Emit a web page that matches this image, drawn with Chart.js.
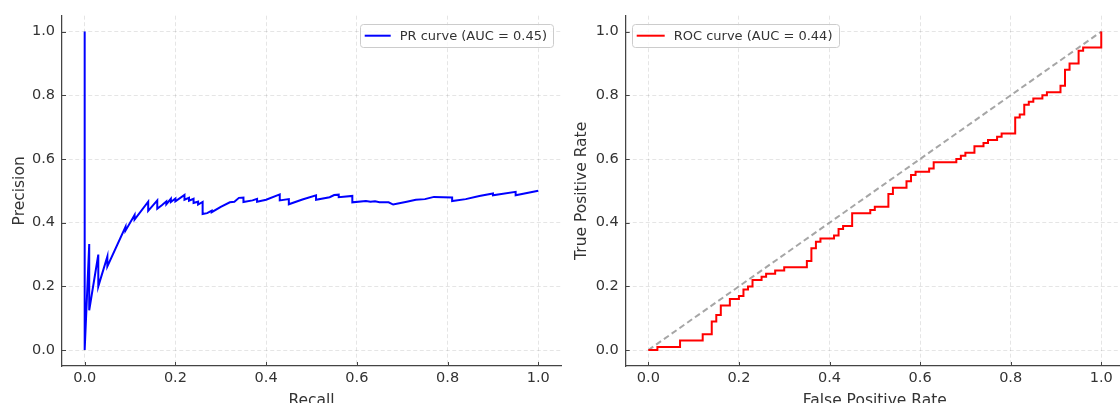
<!DOCTYPE html>
<html>
<head>
<meta charset="utf-8">
<script src="https://cdn.jsdelivr.net/npm/chart.js@4.4.1/dist/chart.umd.min.js"></script>
<style>
    html, body { margin: 0; padding: 0; background: #fff; overflow: hidden; }
    body { width: 1120px; height: 403px; position: relative; }
    .panel { position: absolute; top: 0; }
    #panel-pr { left: 0; }
    #panel-roc { left: 565px; }
</style>
</head>
<body>
<div class="panel" id="panel-pr"><canvas id="grafica-pr" width="565" height="420"></canvas></div>
<div class="panel" id="panel-roc"><canvas id="grafica-roc" width="570" height="420"></canvas></div>
<script>
// Datos

const marcas = [0, 0.2, 0.4, 0.6, 0.8, 1.0];

const recallPR = [0, 0, 0.01, 0.01, 0.03, 0.03, 0.05, 0.05, 0.09, 0.09, 0.11, 0.11, 0.14, 0.14, 0.16, 0.16,
    0.17, 0.18, 0.18, 0.19, 0.19, 0.20, 0.20, 0.22, 0.22, 0.23, 0.23, 0.24, 0.24, 0.25, 0.25, 0.26, 0.26,
    0.27, 0.28, 0.28, 0.30, 0.32, 0.33, 0.34, 0.35, 0.35, 0.37, 0.38, 0.38, 0.40, 0.43, 0.43, 0.45, 0.45,
    0.48, 0.51, 0.51, 0.54, 0.55, 0.56, 0.56, 0.59, 0.59, 0.62, 0.63, 0.64, 0.65, 0.67, 0.68, 0.71, 0.73,
    0.75, 0.77, 0.79, 0.81, 0.81, 0.84, 0.87, 0.90, 0.90, 0.95, 0.95, 1.00];
const precisionPR = [1.0, 0.0, 0.333, 0.125, 0.30, 0.20, 0.294, 0.263, 0.387, 0.375, 0.424, 0.41, 0.466, 0.437, 0.47, 0.444,
    0.455, 0.467, 0.458, 0.475, 0.465, 0.476, 0.467, 0.487, 0.472, 0.478, 0.469, 0.475, 0.462, 0.466, 0.457, 0.465, 0.427,
    0.43, 0.438, 0.433, 0.45, 0.464, 0.466, 0.478, 0.479, 0.465, 0.470, 0.475, 0.466, 0.472, 0.489, 0.470, 0.474, 0.458,
    0.473, 0.486, 0.472, 0.48, 0.487, 0.488, 0.480, 0.484, 0.464, 0.468, 0.466, 0.467, 0.464, 0.464, 0.457, 0.466, 0.472,
    0.474, 0.481, 0.480, 0.479, 0.468, 0.474, 0.484, 0.492, 0.486, 0.497, 0.486, 0.50];

const fprROC = [0, 0.02, 0.07, 0.12, 0.14, 0.15, 0.16, 0.18, 0.20, 0.21, 0.22, 0.23, 0.25, 0.26, 0.28, 0.30, 0.35, 0.36,
    0.37, 0.38, 0.41, 0.42, 0.43, 0.45, 0.49, 0.50, 0.53, 0.54, 0.57, 0.58, 0.59, 0.62, 0.63, 0.68, 0.69, 0.70, 0.72,
    0.74, 0.75, 0.77, 0.78, 0.81, 0.82, 0.83, 0.84, 0.85, 0.87, 0.88, 0.91, 0.92, 0.93, 0.95, 0.96, 1.00];
const tprROC = [0, 0.01, 0.03, 0.05, 0.09, 0.11, 0.14, 0.16, 0.17, 0.19, 0.20, 0.22, 0.23, 0.24, 0.25, 0.26, 0.28, 0.32,
    0.34, 0.35, 0.36, 0.38, 0.39, 0.43, 0.44, 0.45, 0.49, 0.51, 0.53, 0.55, 0.56, 0.57, 0.59, 0.60, 0.61, 0.62, 0.64,
    0.65, 0.66, 0.67, 0.68, 0.73, 0.74, 0.77, 0.78, 0.79, 0.80, 0.81, 0.83, 0.88, 0.90, 0.94, 0.95, 1.00];

const diagX = [0, 1];
const diagY = [0, 1];

const aPuntos = (xs, ys) => xs.map((x, i) => ({ x: x, y: ys[i] }));

Chart.defaults.font.family = '"DejaVu Sans", sans-serif';
Chart.defaults.color = '#333';

const colorRejilla = 'rgba(0, 0, 0, 0.10)';
const colorEje = '#444';

// marcas de escala hacia dentro, como en matplotlib
const marcasInteriores = {
    id: 'marcasInteriores',
    beforeDatasetsDraw(chart) {
        const { ctx, chartArea, scales } = chart;
        ctx.save();
        ctx.strokeStyle = colorEje;
        ctx.lineWidth = 1;
        ctx.beginPath();
        marcas.forEach(v => {
            const px = Math.round(scales.x.getPixelForValue(v)) + 0.5;
            ctx.moveTo(px, chartArea.bottom);
            ctx.lineTo(px, chartArea.bottom - 4);
            const py = Math.round(scales.y.getPixelForValue(v)) + 0.5;
            ctx.moveTo(chartArea.left, py);
            ctx.lineTo(chartArea.left + 4, py);
        });
        ctx.stroke();
        ctx.restore();
    }
};

// leyenda con recuadro dentro del area del grafico
const leyendaInterior = {
    id: 'leyendaInterior',
    afterDraw(chart, args, opts) {
        const { ctx, chartArea } = chart;
        const ds = chart.data.datasets[0];
        ctx.save();
        ctx.font = '13px "DejaVu Sans"';
        const anchoTexto = ctx.measureText(ds.label).width;
        const w = 5 + opts.largo + 9 + anchoTexto + 6;
        const h = 23;
        const x = opts.lado === 'right' ? chartArea.right - 8 - w : chartArea.left + 6;
        const y = chartArea.top + 8;
        ctx.beginPath();
        ctx.roundRect(Math.round(x) + 0.5, Math.round(y) + 0.5, Math.round(w), h, 3);
        ctx.fillStyle = 'rgba(255, 255, 255, 0.8)';
        ctx.fill();
        ctx.strokeStyle = '#cccccc';
        ctx.lineWidth = 1;
        ctx.stroke();
        ctx.beginPath();
        ctx.moveTo(x + 5, y + h / 2 + 0.5);
        ctx.lineTo(x + 5 + opts.largo, y + h / 2 + 0.5);
        ctx.strokeStyle = ds.borderColor;
        ctx.lineWidth = 2;
        ctx.stroke();
        ctx.fillStyle = '#333';
        ctx.textBaseline = 'middle';
        ctx.fillText(ds.label, x + 5 + opts.largo + 9, y + h / 2 + 1);
        ctx.restore();
    }
};

function ejes(tituloX, tituloY, anchoY, padTituloY) {
    return {
        x: {
            type: 'linear',
            min: -0.05,
            max: 1.05,
            afterBuildTicks: eje => { eje.ticks = marcas.map(v => ({ value: v })); },
            afterFit: eje => { eje.height = 420 - 366; },
            grid: { color: colorRejilla, lineWidth: 1, drawTicks: false },
            border: { display: true, color: colorEje, width: 1.25, dash: [4, 2.5] },
            ticks: {
                padding: 4,
                color: '#333',
                font: { size: 14.5 },
                maxRotation: 0,
                callback: v => v.toFixed(1)
            },
            title: {
                display: true,
                text: tituloX,
                color: '#333',
                font: { size: 15.5 },
                padding: { top: 0, bottom: 10 }
            }
        },
        y: {
            type: 'linear',
            min: -0.05,
            max: 1.05,
            afterBuildTicks: eje => { eje.ticks = marcas.map(v => ({ value: v })); },
            afterFit: eje => { eje.width = anchoY; },
            grid: { color: colorRejilla, lineWidth: 1, drawTicks: false },
            border: { display: true, color: colorEje, width: 1.25, dash: [4, 2.5] },
            ticks: {
                padding: 7,
                color: '#333',
                font: { size: 14.5 },
                callback: v => v.toFixed(1)
            },
            title: {
                display: true,
                text: tituloY,
                color: '#333',
                font: { size: 15.5 },
                padding: { top: padTituloY, bottom: 0 }
            }
        }
    };
}

function opciones(tituloX, tituloY, anchoY, padTituloY, padDerecha, lado, largo) {
    return {
        responsive: false,
        animation: false,
        layout: { padding: { top: 15, right: padDerecha, left: 0, bottom: 0 } },
        scales: ejes(tituloX, tituloY, anchoY, padTituloY),
        plugins: {
            legend: { display: false },
            tooltip: { enabled: false },
            leyendaInterior: { lado: lado, largo: largo }
        }
    };
}

// Curva precision-recall

new Chart(document.getElementById('grafica-pr'), {
    type: 'line',
    data: {
        datasets: [{
            label: 'PR curve (AUC = 0.45)',
            data: aPuntos(recallPR, precisionPR),
            borderColor: '#0000ff',
            borderWidth: 2,
            pointRadius: 0,
            tension: 0
        }]
    },
    options: opciones('Recall', 'Precision', 62, 10.5, 4, 'right', 26),
    plugins: [marcasInteriores, leyendaInterior]
});

// Curva ROC

new Chart(document.getElementById('grafica-roc'), {
    type: 'line',
    data: {
        datasets: [{
            label: 'ROC curve (AUC = 0.44)',
            data: aPuntos(fprROC, tprROC),
            borderColor: '#ff0000',
            borderWidth: 2,
            pointRadius: 0,
            stepped: true
        }, {
            label: '',
            data: aPuntos(diagX, diagY),
            borderColor: 'rgba(128, 128, 128, 0.7)',
            borderWidth: 2,
            borderDash: [6, 3.5],
            pointRadius: 0
        }]
    },
    options: opciones('False Positive Rate', 'True Positive Rate', 60.7, 7.5, 11.1, 'left', 28),
    plugins: [marcasInteriores, leyendaInterior]
});
</script>
</body>
</html>
